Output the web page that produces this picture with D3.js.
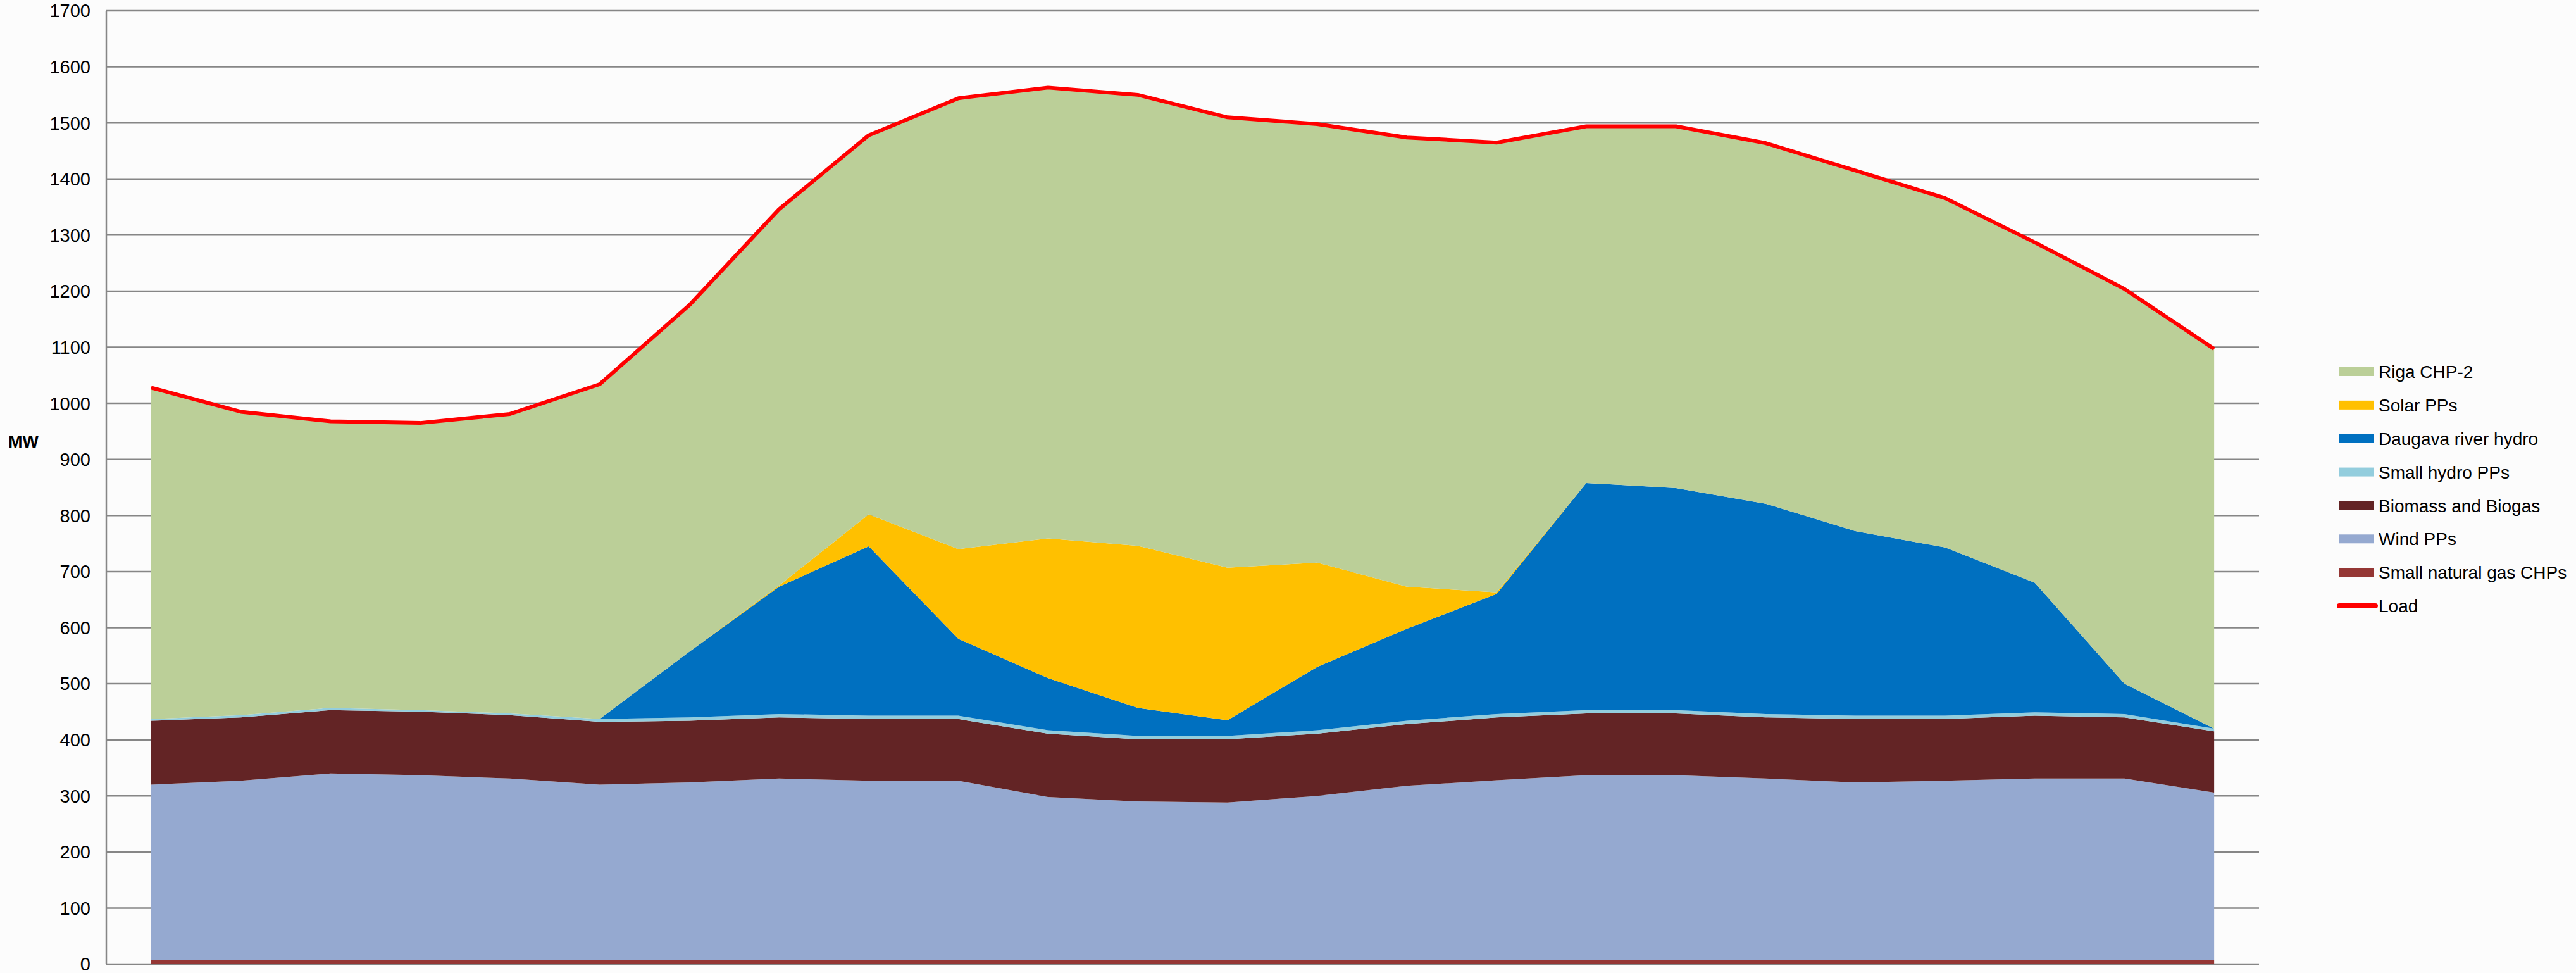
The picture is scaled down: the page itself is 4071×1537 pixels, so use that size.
<!DOCTYPE html>
<html>
<head>
<meta charset="utf-8">
<script src="https://cdn.jsdelivr.net/npm/d3@7"></script>
<style>
  html, body { margin: 0; padding: 0; background: #fcfcfc; }
  svg { display: block; font-family: "Liberation Sans", Arial, sans-serif; }
</style>
</head>
<body>
<svg width="4071" height="1537"></svg>
<script>
// hours of the day (no labels shown on the x axis)
const hours = d3.range(1, 25);

// MW per source
const smallGas   = [7, 7, 7, 7, 7, 7, 7, 7, 7, 7, 7, 7, 7, 7, 7, 7, 7, 7, 7, 7, 7, 7, 7, 7];
const windPPs    = [313, 320, 333, 330, 324, 313, 317, 324, 320, 320, 291, 283, 281, 293, 311, 321, 330, 330, 324, 317, 320, 324, 324, 299];
const biomass    = [114, 113, 113, 113, 113, 112, 110, 109, 110, 110, 113, 111, 113, 111, 110, 112, 110, 110, 109, 113, 110, 112, 109, 109];
const smallHydro = [3, 4, 4, 3, 3, 5, 6, 6, 6, 6, 6, 6, 6, 6, 6, 6, 6, 6, 6, 6, 6, 6, 6, 5];
const daugava    = [0, 0, 0, 0, 0, 0, 117, 227, 302, 137, 93, 50, 28, 113, 164, 214, 405, 396, 375, 329, 300, 231, 54, 0];
const solarPPs   = [0, 0, 0, 0, 0, 0, 0, 2, 57, 160, 249, 289, 272, 186, 75, 3, 0, 0, 0, 0, 0, 0, 0, 0];
const rigaCHP2   = [591, 541, 511, 512, 534, 597, 618, 671, 676, 804, 804, 804, 803, 782, 801, 802, 636, 645, 643, 643, 623, 607, 704, 677];
const load       = [1028, 985, 968, 965, 981, 1034, 1175, 1346, 1478, 1544, 1563, 1550, 1510, 1498, 1474, 1465, 1494, 1494, 1464, 1415, 1366, 1287, 1204, 1097];

const yTicks = d3.range(0, 1701, 100);

// stacking order, bottom to top
const series = [
  { key: "gas",     name: "Small natural gas CHPs", values: smallGas,   color: "#953735" },
  { key: "wind",    name: "Wind PPs",               values: windPPs,    color: "#95a9d0" },
  { key: "bio",     name: "Biomass and Biogas",     values: biomass,    color: "#632425" },
  { key: "shydro",  name: "Small hydro PPs",        values: smallHydro, color: "#93cddd" },
  { key: "daugava", name: "Daugava river hydro",    values: daugava,    color: "#0070c0" },
  { key: "solar",   name: "Solar PPs",              values: solarPPs,   color: "#ffc000" },
  { key: "riga",    name: "Riga CHP-2",             values: rigaCHP2,   color: "#bbcf98" }
];

const table = hours.map((h, i) => {
  const row = { hour: h };
  series.forEach(s => row[s.key] = s.values[i]);
  return row;
});

const svg = d3.select("svg");
const plotL = 168, plotR = 3570, plotT = 17, plotB = 1523;

const x = d3.scalePoint().domain(hours).range([plotL, plotR]).padding(0.5);
const y = d3.scaleLinear().domain([0, 1700]).range([plotB, plotT]);

// gridlines
svg.append("g")
  .selectAll("line")
  .data(yTicks)
  .join("line")
  .attr("x1", plotL).attr("x2", plotR)
  .attr("y1", d => y(d)).attr("y2", d => y(d))
  .attr("stroke", "#868686")
  .attr("stroke-width", 2.5);

// y axis line + labels
svg.append("line")
  .attr("x1", plotL).attr("x2", plotL)
  .attr("y1", y(1700)).attr("y2", y(0))
  .attr("stroke", "#868686").attr("stroke-width", 2.5);

svg.append("g")
  .selectAll("text")
  .data(yTicks)
  .join("text")
  .attr("x", 143)
  .attr("y", d => y(d))
  .attr("dy", "0.36em")
  .attr("text-anchor", "end")
  .attr("font-size", 29)
  .attr("fill", "#000")
  .text(d => d);

svg.append("text")
  .attr("x", 13).attr("y", 697).attr("dy", "0.36em")
  .attr("font-size", 27).attr("font-weight", "bold")
  .text("MW");

// stacked areas
const stack = d3.stack().keys(series.map(s => s.key));
const layers = stack(table);

const area = d3.area()
  .x(d => x(d.data.hour))
  .y0(d => y(d[0]))
  .y1(d => y(d[1]));

svg.append("g")
  .selectAll("path")
  .data(layers)
  .join("path")
  .attr("d", area)
  .attr("fill", (d, i) => series[i].color);

// load line
const line = d3.line()
  .x((d, i) => x(hours[i]))
  .y(d => y(d));

svg.append("path")
  .datum(load)
  .attr("d", line)
  .attr("fill", "none")
  .attr("stroke", "#ff0000")
  .attr("stroke-width", 6)
  .attr("stroke-linejoin", "round");

// legend
const legendItems = series.slice().reverse().concat([{ name: "Load", color: "#ff0000", line: true }]);
const lg = svg.append("g");
const rowY = d3.scaleLinear().domain([0, 7]).range([587, 957]);

legendItems.forEach((it, i) => {
  const cy = rowY(i);
  if (it.line) {
    lg.append("line")
      .attr("x1", 3697).attr("x2", 3754)
      .attr("y1", cy).attr("y2", cy)
      .attr("stroke", it.color).attr("stroke-width", 8)
      .attr("stroke-linecap", "round");
  } else {
    lg.append("rect")
      .attr("x", 3696).attr("y", cy - 7)
      .attr("width", 56).attr("height", 14)
      .attr("fill", it.color);
  }
  lg.append("text")
    .attr("x", 3759).attr("y", cy).attr("dy", "0.36em")
    .attr("font-size", 28)
    .text(it.name);
});
</script>
</body>
</html>
